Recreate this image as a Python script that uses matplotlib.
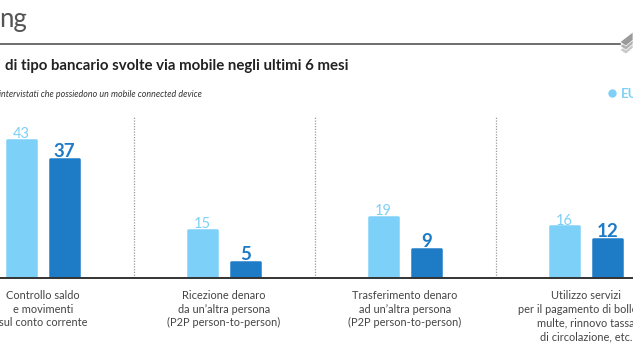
import matplotlib
matplotlib.use("Agg")
import numpy as np
from matplotlib import pyplot as plt
from matplotlib import transforms
from matplotlib.patches import Polygon

categories = [
    "Controllo saldo\ne movimenti\nsul conto corrente",
    "Ricezione denaro\nda un\u2019altra persona\n(P2P person-to-person)",
    "Trasferimento denaro\nad un\u2019altra persona\n(P2P person-to-person)",
    "Utilizzo servizi\nper il pagamento di bollette,\nmulte, rinnovo tassa\ndi circolazione, etc.",
]
eu_values = [43, 15, 19, 16]
it_values = [37, 5, 9, 12]

LIGHT = "#7dd0f7"
DARK = "#1e7bc6"
W, H = 633, 350

plt.rcParams["font.family"] = ["Lato", "DejaVu Sans"]

fig = plt.figure(figsize=(W / 100, H / 100), dpi=100)


def fx(px):
    return px / W


def fy(py):
    return 1 - py / H


# bar axes: baseline at 278 px, 3.22 px per unit, group i at 43 + 181 i px
base_px, top_px = 278, 110
ppu = 3.22
step = 181
ax = fig.add_axes([0, fy(base_px), 1, (base_px - top_px) / H])
ax.set_xlim(-43 / step, (W - 43) / step)
ax.set_ylim(0, (base_px - top_px) / ppu)
ax.axis("off")

x = np.arange(len(categories))
off = 21.5 / step
bw = 28.5 / step
ax.bar(x - off, eu_values, bw, color=LIGHT, edgecolor=LIGHT, linewidth=1.8,
       joinstyle="round", zorder=2)
ax.bar(x + off, it_values, bw, color=DARK, edgecolor=DARK, linewidth=1.8,
       joinstyle="round", zorder=2)

for xi, v in zip(x, eu_values):
    ax.text(xi - off, v + 0.6, str(v), ha="center", va="baseline",
            fontsize=10.5, color=LIGHT, zorder=3)
for xi, v in zip(x, it_values):
    ax.text(xi + off, v + 0.6, str(v), ha="center", va="baseline",
            fontsize=13.5, fontweight="bold", color=DARK, zorder=3)

# dotted separators and baseline
ax.vlines(x[:-1] + 0.5, 0, (base_px - 117) / ppu, colors="#9a9a9a",
          linestyles=(0, (1, 1.2)), linewidth=0.9)
ax.axhline(0, color="#333333", linewidth=1.4, zorder=4, clip_on=False)

# category labels under each group
tr = transforms.blended_transform_factory(ax.transData, fig.transFigure)
for xi, lab in zip(x, categories):
    ax.text(xi, fy(290), lab, transform=tr, ha="center", va="top",
            fontsize=7.9, color="#444444", linespacing=1.3, clip_on=False)

# header
fig.text(fx(-1), fy(27), "ng", fontsize=18.5, color="#555555", va="baseline")
fig.add_artist(plt.Line2D([0, fx(620)], [fy(44), fy(44)], color="#555555",
                          linewidth=1.2, transform=fig.transFigure))
fig.text(fx(5), fy(70), "di tipo bancario svolte via mobile negli ultimi 6 mesi",
         fontsize=10.8, fontweight="bold", color="#222222", va="baseline")
fig.text(fx(-1), fy(97), "intervistati che possiedono un mobile connected device",
         fontsize=6.4, style="italic", color="#333333", va="baseline")

# legend fragment (cut at the right edge, as in the reference)
fig.add_artist(plt.Line2D([fx(612)], [fy(93)], marker="o", markersize=5,
                          color=LIGHT, transform=fig.transFigure))
fig.text(fx(621), fy(97.5), "EU", fontsize=9.5, fontweight="bold",
         color=LIGHT, va="baseline")

# stacked pages icon (top right)
for dy, c in [(8, "#c8c8c8"), (4, "#b0b0b0"), (0, "#9a9a9a")]:
    pts = [(fx(620), fy(42 + dy)), (fx(633), fy(32 + dy)),
           (fx(633), fy(40 + dy)), (fx(626), fy(46 + dy))]
    fig.add_artist(Polygon(pts, closed=True, facecolor=c, edgecolor="white",
                           linewidth=0.5, transform=fig.transFigure))

plt.savefig("out.png", dpi=100)
